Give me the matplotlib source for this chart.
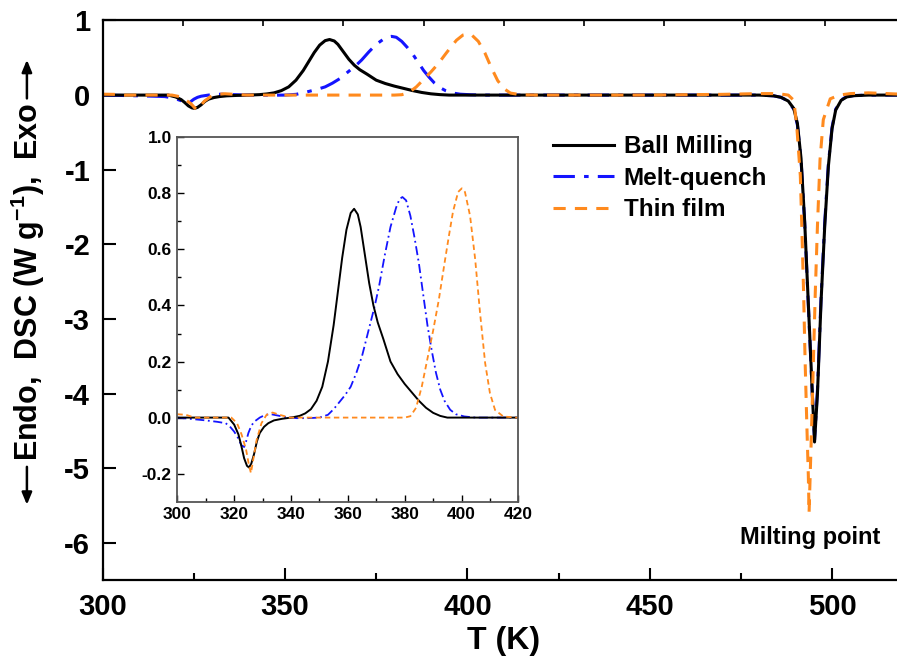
import numpy as np
import matplotlib.pyplot as plt

plt.rcParams['font.family'] = ['Liberation Sans', 'DejaVu Sans']
plt.rcParams['font.weight'] = 'bold'
plt.rcParams['mathtext.fontset'] = 'custom'
plt.rcParams['mathtext.bf'] = 'Liberation Sans:bold'
plt.rcParams['mathtext.rm'] = 'Liberation Sans:bold'
plt.rcParams['mathtext.default'] = 'bf'
plt.rcParams['axes.unicode_minus'] = False

# DSC traces (T in K, heat flow in W/g)
T_bm = [300, 305, 310, 315, 318, 320, 321.5, 322.5, 323.5, 324.5, 325.2, 326, 327, 328, 329,
        330.5, 332, 334, 337, 340, 343, 345, 347, 349, 351, 353, 355, 356.5, 358, 359.5, 361,
        362.2, 363.5, 364.5, 366, 367.5, 369, 370.5, 372.5, 375, 377.5, 380, 382.5, 385, 387.5,
        390, 392.5, 395, 400, 420, 450, 470, 480, 484, 486, 488, 489.5, 490.5, 491.5, 492.5,
        493.5, 494.5, 495.2, 496, 497, 498, 499, 500, 501, 502.5, 504, 506, 510, 520]
dsc_bm = [0.0, 0.0, 0.0, 0.0, 0.0, -0.025, -0.06, -0.1, -0.145, -0.172, -0.178, -0.165, -0.13,
          -0.085, -0.055, -0.033, -0.02, -0.01, -0.004, 0.0, 0.006, 0.015, 0.03, 0.06, 0.11, 0.2,
          0.33, 0.45, 0.57, 0.67, 0.73, 0.745, 0.725, 0.68, 0.58, 0.48, 0.40, 0.34, 0.28, 0.2,
          0.155, 0.12, 0.09, 0.06, 0.035, 0.017, 0.006, 0.0, 0.0, 0.0, 0.0, 0.0, 0.0, -0.01,
          -0.03, -0.08, -0.18, -0.38, -0.85, -1.7, -2.8, -3.9, -4.65, -4.0, -2.75, -1.75, -0.95,
          -0.45, -0.2, -0.07, -0.025, -0.008, 0.0, 0.0]

T_mq = [300, 305, 310, 314, 317, 318.5, 320, 321.5, 322.5, 323.5, 324.2, 325, 326, 327, 329,
        331, 333, 335, 338, 342, 346, 350, 353, 355, 357, 359, 361, 363, 365, 367, 369.5, 371,
        373, 375, 377, 378.2, 379.2, 380.5, 382, 383.5, 385, 386.5, 388, 389.5, 391, 392.5, 394,
        396, 398, 401, 405, 420, 450, 480, 484, 486, 488, 489.5, 490.5, 491.5, 492.5, 493.5,
        494.5, 495.2, 496, 497, 498, 499, 500, 501, 502.5, 504, 506, 510, 520]
dsc_mq = [0.0, -0.005, -0.01, -0.015, -0.02, -0.032, -0.05, -0.075, -0.098, -0.105, -0.085,
          -0.055, -0.03, -0.015, 0.0, 0.01, 0.012, 0.008, 0.002, -0.002, -0.002, 0.0, 0.01, 0.03,
          0.055, 0.08, 0.11, 0.16, 0.22, 0.30, 0.40, 0.47, 0.58, 0.68, 0.75, 0.78, 0.787, 0.775,
          0.72, 0.64, 0.55, 0.44, 0.33, 0.24, 0.16, 0.1, 0.06, 0.028, 0.012, 0.004, 0.0, 0.0, 0.0,
          0.0, -0.01, -0.03, -0.08, -0.19, -0.4, -0.87, -1.72, -2.82, -3.92, -4.62, -3.95, -2.7,
          -1.7, -0.92, -0.43, -0.19, -0.065, -0.02, -0.006, 0.0, 0.0]

T_tf = [300, 303, 306, 310, 315, 319, 321, 322.6, 324.2, 325.2, 325.9, 326.7, 327.9, 329.6,
        331.4, 333.5, 336, 339.5, 350, 370, 380, 382, 384, 386, 388, 390, 392, 394, 395.5, 397,
        398.8, 400.1, 401.2, 403, 404.8, 406.5, 408.3, 410, 411.8, 414.7, 419, 450, 470, 480,
        485, 488, 489.5, 490.3, 491.3, 491.7, 492.2, 492.6, 493.1, 493.5, 493.7, 494.0, 494.4,
        494.9, 495.4, 496.0, 496.7, 497.6, 499.5, 502, 505, 510, 515, 520]
dsc_tf = [0.012, 0.01, 0.0, 0.0, 0.0, 0.0, -0.02, -0.06, -0.115, -0.17, -0.198, -0.15, -0.08,
          -0.02, 0.01, 0.018, 0.01, 0.0, 0.0, 0.0, 0.0, 0.005, 0.035, 0.11, 0.21, 0.31, 0.42,
          0.55, 0.645, 0.735, 0.805, 0.818, 0.805, 0.72, 0.565, 0.375, 0.195, 0.087, 0.027,
          0.004, 0.0, 0.0, 0.01, 0.02, 0.02, 0.0, -0.07, -0.4, -1.08, -1.75, -2.65, -3.54, -4.44,
          -5.11, -5.6, -5.1, -4.44, -3.54, -2.65, -1.75, -0.87, -0.33, -0.05, 0.0, 0.02, 0.03,
          0.02, 0.01]

c_blue = '#1414ff'
c_orange = '#ff8a1e'

fig = plt.figure(figsize=(8.97, 6.65), dpi=100)
ax = fig.add_axes([0.1145, 0.1278, 0.8944, 0.8414])

ax.plot(T_mq, dsc_mq, color=c_blue, lw=2.2, ls=(0, (7, 3, 1.5, 3)), label='Melt-quench')
ax.plot(T_bm, dsc_bm, color='black', lw=2.2, label='Ball Milling')
ax.plot(T_tf, dsc_tf, color=c_orange, lw=2.2, ls=(0, (4, 3)), label='Thin film')

ax.set_xlim(300, 520)
ax.set_ylim(-6.5, 1.0)
ax.set_xticks([300, 350, 400, 450, 500])
ax.set_xticks([325, 375, 425, 475], minor=True)
ax.set_yticks([1, 0, -1, -2, -3, -4, -5, -6])
ax.tick_params(axis='both', which='major', direction='in', length=9, width=1.5,
               labelsize=21, pad=9)
ax.tick_params(axis='x', which='minor', direction='in', length=5, width=1.5)
for s in ax.spines.values():
    s.set_linewidth(1.6)
ax.spines['right'].set_visible(False)

top = ax.secondary_xaxis('top')
top.set_xticks(np.linspace(300, 520, 11))
top.tick_params(direction='in', length=4, width=1.2, labeltop=False)

ax.set_xlabel('T (K)', fontsize=23, fontweight='bold', labelpad=4)

# y label with endo/exo arrows
fig.text(0.031, 0.576, 'Endo,  DSC (W g$^{-1}$),  Exo', rotation=90, fontsize=22,
         fontweight='bold', ha='center', va='center')
arrow = dict(arrowstyle='-|>,head_length=0.6,head_width=0.25', color='black', lw=1.8,
             mutation_scale=12, shrinkA=0, shrinkB=0)
ax.annotate('', xy=(0.030, 0.241), xytext=(0.030, 0.298), xycoords='figure fraction',
            textcoords='figure fraction', arrowprops=arrow, annotation_clip=False)
ax.annotate('', xy=(0.030, 0.910), xytext=(0.030, 0.852), xycoords='figure fraction',
            textcoords='figure fraction', arrowprops=arrow, annotation_clip=False)

ax.text(494, -5.93, 'Milting point', fontsize=17, fontweight='bold', ha='center', va='center')

h, l = ax.get_legend_handles_labels()
order = [1, 0, 2]
ax.legend([h[i] for i in order], [l[i] for i in order], loc='upper left',
          bbox_to_anchor=(0.603, 0.815), bbox_transform=fig.transFigure, frameon=False,
          fontsize=17.5, handlelength=2.5, handletextpad=0.4, labelspacing=0.35, borderpad=0)

# zoom on the crystallisation region
ins = fig.add_axes([0.1977, 0.2456, 0.3802, 0.5479])
ins.plot(T_mq, dsc_mq, color=c_blue, lw=1.3, ls=(0, (5, 2, 1, 2)))
ins.plot(T_bm, dsc_bm, color='black', lw=1.4)
ins.plot(T_tf, dsc_tf, color=c_orange, lw=1.3, ls=(0, (3, 2)))
ins.set_xlim(300, 420)
ins.set_ylim(-0.3, 1.0)
ins.set_xticks(np.arange(300, 421, 20))
ins.set_xticks(np.arange(310, 420, 20), minor=True)
ins.set_yticks([-0.2, 0.0, 0.2, 0.4, 0.6, 0.8, 1.0])
ins.set_yticks([-0.1, 0.1, 0.3, 0.5, 0.7, 0.9], minor=True)
ins.set_yticklabels(['-0.2', '0.0', '0.2', '0.4', '0.6', '0.8', '1.0'])
ins.tick_params(which='major', direction='in', length=5, width=1, labelsize=12.5, pad=4)
ins.tick_params(which='minor', direction='in', length=3, width=1)
for s in ins.spines.values():
    s.set_linewidth(1.3)
    s.set_color('#555555')

fig.savefig('out.png', dpi=100)
